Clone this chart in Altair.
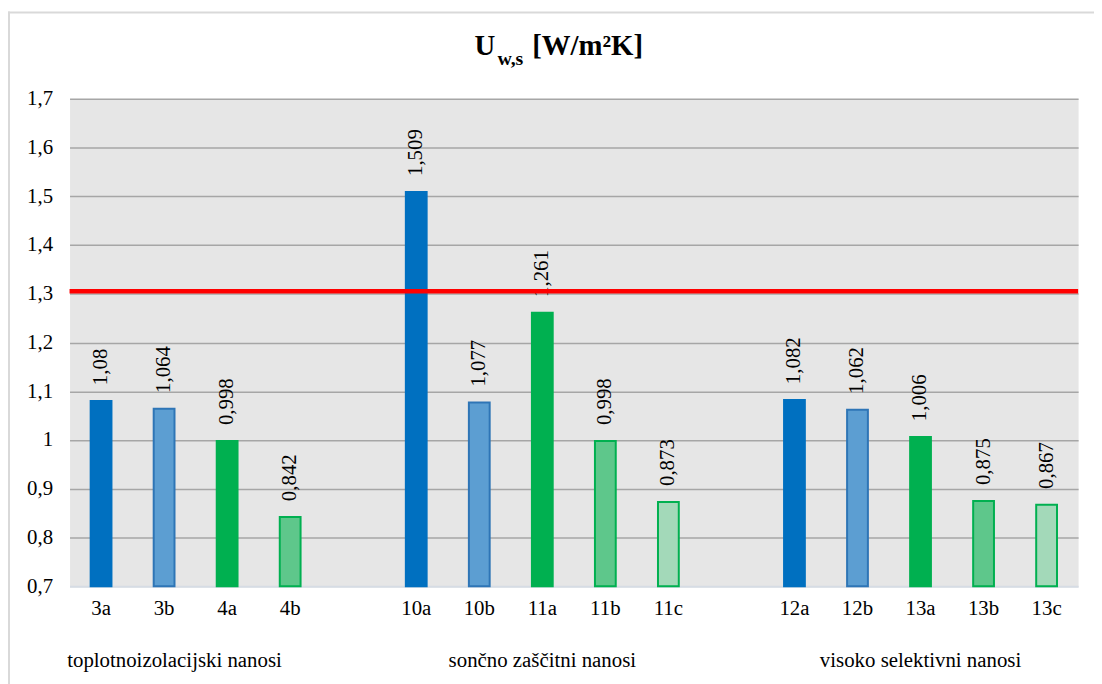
import altair as alt
import pandas as pd

categories = ["3a", "3b", "4a", "4b", "10a", "10b", "11a", "11b", "11c",
              "12a", "12b", "13a", "13b", "13c"]
values = [1.08, 1.064, 0.998, 0.842, 1.509, 1.077, 1.261, 0.998, 0.873,
          1.082, 1.062, 1.006, 0.875, 0.867]
shades = ["A", "B", "C", "D", "A", "B", "C", "D", "E", "A", "B", "C", "D", "E"]
slot_order = ["3a", "3b", "4a", "4b", "_g1", "10a", "10b", "11a", "11b", "11c",
              "_g2", "12a", "12b", "13a", "13b", "13c"]
y_ticks = [0.7, 0.8, 0.9, 1.0, 1.1, 1.2, 1.3, 1.4, 1.5, 1.6, 1.7]
limit_value = 1.305
group_labels = ["toplotnoizolacijski nanosi", "sončno zaščitni nanosi", "visoko selektivni nanosi"]
group_anchor = ["3b", "11a", "13a"]

SERIF = "'Liberation Serif', 'Times New Roman', 'DejaVu Serif', serif"
W, H = 1016, 491

df = pd.DataFrame({"cat": categories, "value": values, "shade": shades})
df["base"] = 0.7

xscale = alt.Scale(domain=slot_order, paddingInner=0.67, paddingOuter=0.335)
yscale = alt.Scale(domain=[0.7, 1.7], nice=False, zero=False)

shade_dom = ["A", "B", "C", "D", "E"]
fill_scale = alt.Scale(domain=shade_dom,
                       range=["#0070c0", "#5c9ed2", "#00b050", "#5ec78b", "#a3d9b9"])
stroke_scale = alt.Scale(domain=shade_dom,
                         range=["#0070c0", "#2e75b6", "#00b050", "#00b050", "#00b050"])

base = alt.Chart(df)

bars = base.mark_bar(strokeWidth=2).encode(
    x=alt.X("cat:N", scale=xscale, sort=slot_order, title=None,
            axis=alt.Axis(labelAngle=0, labelFont=SERIF, labelFontSize=21,
                          labelColor="black", labelPadding=11, ticks=False,
                          domain=True, domainColor="#d6dce4", domainWidth=2,
                          grid=False,
                          labelExpr="indexof(datum.label, '_g') == 0 ? '' : datum.label")),
    y=alt.Y("value:Q", scale=yscale, title=None,
            axis=alt.Axis(values=y_ticks, labelFont=SERIF, labelFontSize=21,
                          labelColor="black", labelPadding=17, ticks=False,
                          domain=False, grid=True, gridWidth=1.5, gridOpacity=1,
                          gridColor=alt.condition("datum.value < 0.75",
                                                  alt.value("#e6e6e6"),
                                                  alt.value("#a6a6a6")),
                          labelExpr="replace(format(datum.value, '.2~f'), '.', ',')")),
    y2="base:Q",
    fill=alt.Fill("shade:N", scale=fill_scale, legend=None),
    stroke=alt.Stroke("shade:N", scale=stroke_scale, legend=None),
)

labels = base.transform_calculate(
    lbl="replace(format(datum.value, '.3~f'), '.', ',')"
).mark_text(angle=270, align="left", baseline="middle", dx=16,
            font=SERIF, fontSize=21, color="black").encode(
    x=alt.X("cat:N", scale=xscale, sort=slot_order),
    y=alt.Y("value:Q", scale=yscale),
    text="lbl:N",
)

limit = alt.Chart(pd.DataFrame({"v": [limit_value]})).mark_rule(
    color="#ff0000", strokeWidth=4.5).encode(y=alt.Y("v:Q", scale=yscale))

gdf1 = pd.DataFrame({"cat": group_anchor[:1], "label": group_labels[:1]})
gdf2 = pd.DataFrame({"cat": group_anchor[1:], "label": group_labels[1:]})
g1 = alt.Chart(gdf1).mark_text(font=SERIF, fontSize=21, color="black",
                                baseline="alphabetic", align="center").encode(
    x=alt.X("cat:N", scale=xscale, sort=slot_order, bandPosition=1),
    y=alt.value(H + 81), text="label:N")
g2 = alt.Chart(gdf2).mark_text(font=SERIF, fontSize=21, color="black",
                                baseline="alphabetic", align="center").encode(
    x=alt.X("cat:N", scale=xscale, sort=slot_order, bandPosition=0.5),
    y=alt.value(H + 81), text="label:N")

one = pd.DataFrame({"a": [0]})
t_u = alt.Chart(one).mark_text(text="U", font=SERIF, fontSize=29, fontWeight="bold",
                               color="black", align="left", baseline="alphabetic").encode(
    x=alt.value(408), y=alt.value(-44))
t_sub = alt.Chart(one).mark_text(text="w,s", font=SERIF, fontSize=20, fontWeight="bold",
                                 color="black", align="left", baseline="alphabetic").encode(
    x=alt.value(431), y=alt.value(-34))
t_rest = alt.Chart(one).mark_text(text="[W/m²K]", font=SERIF, fontSize=29, fontWeight="bold",
                                  color="black", align="left", baseline="alphabetic").encode(
    x=alt.value(466), y=alt.value(-44))

border_v = alt.Chart(one).mark_rule(color="#d9d9d9", strokeWidth=2).encode(
    x=alt.value(-61), y=alt.value(-88), y2=alt.value(H + 110))
border_h = alt.Chart(one).mark_rule(color="#d9d9d9", strokeWidth=2).encode(
    x=alt.value(-62), x2=alt.value(W + 30), y=alt.value(-87))

chart = alt.layer(bars, labels, limit, g1, g2, t_u, t_sub, t_rest, border_v, border_h).properties(
    width=W, height=H,
    background="white",
    autosize=alt.AutoSizeParams(type="none"),
    padding={"left": 62, "top": 89, "right": 16, "bottom": 96},
).configure_view(fill="#e6e6e6", stroke="transparent")

chart.save("out.html", embed_options={"renderer": "svg", "actions": False})
